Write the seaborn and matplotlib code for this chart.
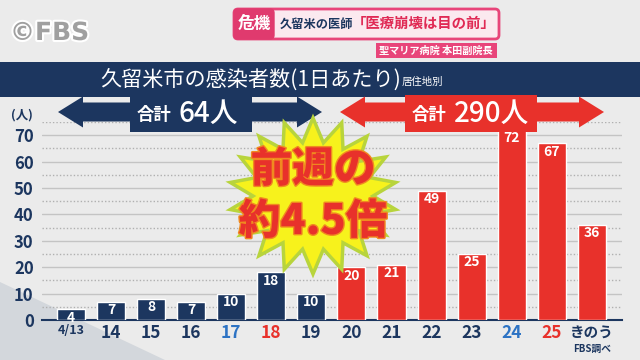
import numpy as np
import pandas as pd
import matplotlib
matplotlib.use("Agg")
import matplotlib.pyplot as plt
import matplotlib.patheffects as pe
from matplotlib.patches import Polygon, Rectangle, FancyBboxPatch
import seaborn as sns

# data
days = ["4/13", "14", "15", "16", "17", "18", "19", "20", "21", "22", "23", "24", "25", "きのう"]
cases = [4, 7, 8, 7, 10, 18, 10, 20, 21, 49, 25, 72, 67, 36]
week = ["prev"] * 7 + ["this"] * 7
tick_colors = ["navy", "navy", "navy", "navy", "blue", "red", "navy",
               "navy", "navy", "navy", "navy", "blue", "red", "navy"]
total_prev = 64
total_this = 290

NAVY = "#1c365f"
RED = "#e8312b"
BLUE = "#2d73c4"
BG = "#ebebeb"
col = {"navy": NAVY, "blue": BLUE, "red": RED}

df = pd.DataFrame({"day": days, "cases": cases, "week": week})

sns.set_theme(style="white")
plt.rcParams["font.family"] = ["Noto Sans CJK JP", "DejaVu Sans"]

fig = plt.figure(figsize=(6.4, 3.6), dpi=100)
fig.patch.set_facecolor(BG)

# background layer (pixel coords)
bg = fig.add_axes([0, 0, 1, 1], zorder=-1)
bg.set_xlim(0, 640)
bg.set_ylim(360, 0)
bg.axis("off")
bg.add_patch(Polygon([(0, 282), (0, 360), (165, 360)], closed=True, color="#d3d7dc", lw=0))

# main chart
ax = fig.add_axes([42 / 640, 1 - 320 / 360, 580 / 640, 198 / 360], zorder=1)
ax.set_facecolor("none")
sns.barplot(data=df, x="day", y="cases", hue="week",
            palette={"prev": NAVY, "this": RED}, width=0.7, saturation=1,
            dodge=False, legend=False, ax=ax, zorder=3)
ax.set_ylim(0, 75)
ax.set_xlim(-0.72, len(days) - 1 + 0.75)
for v in range(10, 80, 10):
    ax.axhline(v, color="#c4c4c4", lw=1.0, zorder=1)
for v in range(5, 80, 10):
    ax.axhline(v, color="#b0b0b0", lw=1.0, ls=(0, (1, 1.5)), zorder=1)
ax.set_yticks(range(0, 80, 10))
ax.tick_params(axis="y", length=0, pad=6, labelsize=12, labelcolor=NAVY)
for t in ax.get_yticklabels():
    t.set_fontweight("bold")
ax.tick_params(axis="x", length=0, pad=3)
ax.set_xticks(range(len(days)))
ax.set_xticklabels(days)
for t, c, d in zip(ax.get_xticklabels(), tick_colors, days):
    t.set_color(col[c])
    t.set_fontweight("bold")
    t.set_fontsize(9 if d == "4/13" else (10.5 if d == "きのう" else 12.5))
ax.set_xlabel("")
ax.set_ylabel("")
for s in ["top", "right", "left"]:
    ax.spines[s].set_visible(False)
ax.spines["bottom"].set_color(NAVY)
ax.spines["bottom"].set_linewidth(1.5)

for i, v in enumerate(cases):
    ax.annotate(str(v), (i, v), xytext=(0, -1), textcoords="offset points",
                ha="center", va="top", color="white", fontsize=10,
                fontweight="bold", zorder=4)

# overlay (pixel coords)
ov = fig.add_axes([0, 0, 1, 1], zorder=5)
ov.set_xlim(0, 640)
ov.set_ylim(360, 0)
ov.axis("off")

# header
ov.text(10, 33, "©FBS", fontsize=18, color="#a0a0a0", fontweight="bold", va="center",
        family=["DejaVu Sans"],
        path_effects=[pe.withStroke(linewidth=3, foreground="white")])
ov.add_patch(FancyBboxPatch((234, 9), 265, 30, boxstyle="round,pad=0,rounding_size=4",
                            fc="#fbe9ef", ec="#e8457a", lw=2))
ov.add_patch(FancyBboxPatch((234, 9), 40, 30, boxstyle="round,pad=0,rounding_size=4",
                            fc="#e03a6e", ec="#e03a6e", lw=1))
ov.text(254, 24, "危機", color="white", fontsize=12, fontweight="bold", ha="center", va="center")
ov.text(280, 24, "久留米の医師", color=NAVY, fontsize=8.8, fontweight="bold", va="center")
ov.text(352, 24, "「医療崩壊は目の前」", color="#e02a55", fontsize=10.4, fontweight="bold", va="center")
ov.add_patch(Rectangle((376, 43), 121, 15, fc="#e8457a", ec="none"))
ov.text(436, 50.5, "聖マリア病院 本田副院長", color="white", fontsize=7.3, fontweight="bold",
        ha="center", va="center")

# title band
ov.add_patch(Rectangle((0, 62), 640, 35, fc=NAVY, ec="none"))
ov.text(100, 80, "久留米市の感染者数(1日あたり)", color="white", fontsize=15.2, va="center")
ov.text(402, 82, "居住地別", color="white", fontsize=7.5, va="center")

# unit label
ov.text(22, 115, "(人)", color=NAVY, fontsize=9, fontweight="bold", ha="center", va="center")


def double_arrow(x0, x1, box0, box1, color, label_a, label_b):
    yc, hs, hh, hl = 112, 9.5, 15.5, 25
    pts = [(x0, yc), (x0 + hl, yc - hh), (x0 + hl, yc - hs), (x1 - hl, yc - hs),
           (x1 - hl, yc - hh), (x1, yc), (x1 - hl, yc + hh), (x1 - hl, yc + hs),
           (x0 + hl, yc + hs), (x0 + hl, yc + hh)]
    ov.add_patch(Polygon(pts, closed=True, fc=color, ec="none"))
    ov.add_patch(Rectangle((box0, 95), box1 - box0, 37, fc=color, ec="none"))
    ov.text(box0 + 7, 115, label_a, color="white", fontsize=12.5, ha="left", va="center",
            fontweight="bold")
    ov.text(box0 + 49, 113, label_b, color="white", fontsize=20, ha="left", va="center",
            fontweight="medium")


double_arrow(58, 322, 130, 252, NAVY, "合計", f"{total_prev}人")
double_arrow(340, 604, 405, 537, RED, "合計", f"{total_this}人")

# starburst
n = 18
ang = np.linspace(0, 2 * np.pi, 2 * n, endpoint=False) - np.pi / 2
rx = np.where(np.arange(2 * n) % 2 == 0, 84, 60)
ry = np.where(np.arange(2 * n) % 2 == 0, 78, 54)
star = np.column_stack([313 + rx * np.cos(ang), 196 + ry * np.sin(ang)])
ov.add_patch(Polygon(star, closed=True, fc="#f7f21c", ec="#b8d43c", lw=2.5))
ov.text(313, 170, "前週の", color=RED, fontsize=30, fontweight="black", ha="center", va="center",
        path_effects=[pe.withStroke(linewidth=2, foreground="#f08a20")])
ov.text(313, 222, "約4.5倍", color=RED, fontsize=30, fontweight="black", ha="center", va="center",
        path_effects=[pe.withStroke(linewidth=2, foreground="#f08a20")])

# source
ov.text(592, 349, "FBS調べ", color=NAVY, fontsize=7, fontweight="bold", ha="center", va="center")

fig.savefig("out.png", dpi=100, facecolor=BG)
